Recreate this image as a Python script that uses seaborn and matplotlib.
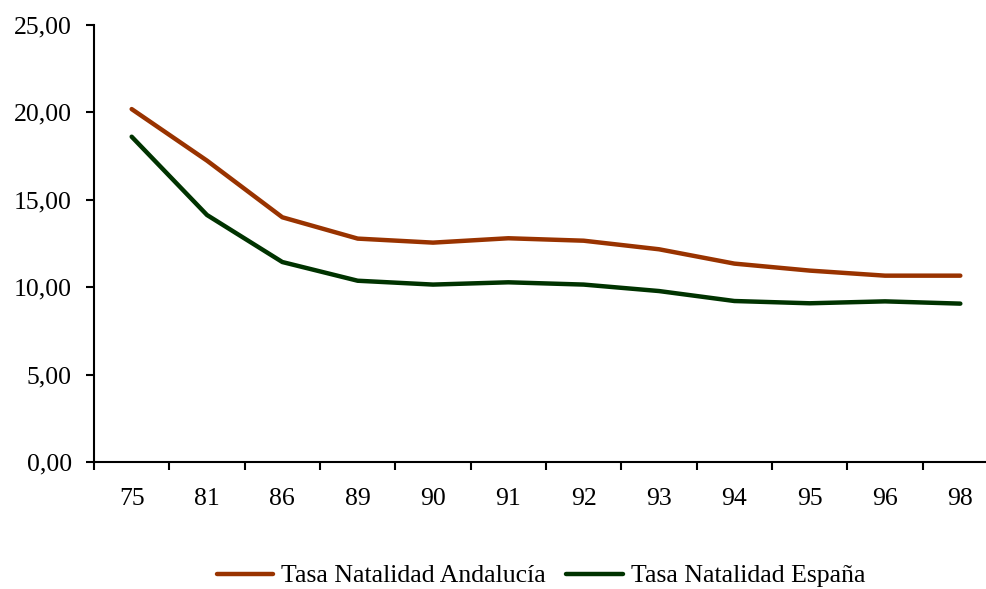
import matplotlib
matplotlib.use("Agg")
import matplotlib.pyplot as plt
import seaborn as sns
import pandas as pd
import numpy as np

years = ["75", "81", "86", "89", "90", "91", "92", "93", "94", "95", "96", "98"]
andalucia = [20.19, 17.24, 14.00, 12.78, 12.55, 12.80, 12.66, 12.17, 11.35, 10.95, 10.66, 10.66]
espana = [18.61, 14.13, 11.44, 10.37, 10.15, 10.28, 10.15, 9.78, 9.21, 9.08, 9.19, 9.06]
series_names = ["Tasa Natalidad Andalucía", "Tasa Natalidad España"]
colors = ["#993300", "#003300"]

sns.set_style("white")
plt.rcParams['font.family'] = ['Liberation Serif', 'DejaVu Serif']
plt.rcParams['text.color'] = 'black'
plt.rcParams['xtick.color'] = 'black'
plt.rcParams['ytick.color'] = 'black'
plt.rcParams['xtick.labelcolor'] = 'black'
plt.rcParams['ytick.labelcolor'] = 'black'

df = pd.DataFrame({
    "pos": list(range(len(years))) * 2,
    "valor": andalucia + espana,
    "serie": [series_names[0]] * len(years) + [series_names[1]] * len(years),
})

FS = 18.5

fig = plt.figure(figsize=(9.87, 5.89), dpi=100)
ax = fig.add_axes([94/987, 1 - 462/589, 904/987, 437/589])

sns.lineplot(data=df, x="pos", y="valor", hue="serie", palette=colors,
             linewidth=3.2, ax=ax, legend=True)

ax.set_xlim(-0.5, len(years) - 0.5)
ax.set_ylim(0, 25)
ax.set_yticks(np.arange(0, 25.01, 5))
ax.set_yticklabels([f"{v:.2f}".replace(".", ",") for v in np.arange(0, 25.01, 5)], fontsize=FS)

ax.set_xticks(np.arange(-0.5, len(years), 1))
ax.set_xticklabels([])
ax.set_xticks(np.arange(len(years)), minor=True)
ax.set_xticklabels(years, minor=True, fontsize=FS)
ax.tick_params(axis="x", which="major", bottom=True, direction="out", length=6, width=1.5, color="black")
ax.tick_params(axis="x", which="minor", bottom=True, length=0, pad=19, labelcolor="black")
ax.tick_params(axis="y", which="major", left=True, direction="out", length=6, width=1.5, color="black", pad=10, labelcolor="black")

for s in ["top", "right"]:
    ax.spines[s].set_visible(False)
for s in ["left", "bottom"]:
    ax.spines[s].set_color("black")
    ax.spines[s].set_linewidth(1.5)

ax.set_xlabel("")
ax.set_ylabel("")

handles, labels = ax.get_legend_handles_labels()
leg = ax.legend(handles, labels, loc="center", bbox_to_anchor=(541/987, 1 - 576/589),
                bbox_transform=fig.transFigure, ncol=2, frameon=False, fontsize=FS,
                handlelength=2.2, handletextpad=0.3, columnspacing=0.8)
for t in leg.get_texts():
    t.set_color("black")

fig.savefig("out.png", dpi=100)
